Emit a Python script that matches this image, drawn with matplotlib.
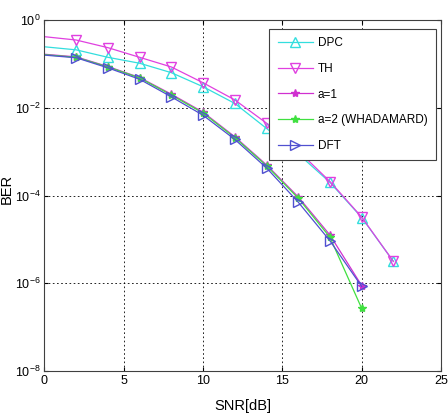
import matplotlib.pyplot as plt
import numpy as np

plt.rcParams['font.family'] = ['Liberation Sans', 'DejaVu Sans']

# log10(BER)
snr_long = [0, 2, 4, 6, 8, 10, 12, 14, 16, 18, 20, 22]
snr = [0, 2, 4, 6, 8, 10, 12, 14, 16, 18, 20]
dpc = [-0.61, -0.68, -0.85, -0.985, -1.2, -1.52, -1.9, -2.47, -3.05, -3.7, -4.5, -5.5]
th = [-0.38, -0.456, -0.63, -0.85, -1.07, -1.43, -1.82, -2.35, -2.98, -3.68, -4.49, -5.5]
a1 = [-0.78, -0.84, -1.06, -1.31, -1.69, -2.1, -2.66, -3.3, -4.03, -4.9, -6.05]
a2 = [-0.79, -0.85, -1.07, -1.32, -1.71, -2.12, -2.68, -3.32, -4.06, -4.95, -6.57]
dft = [-0.80, -0.86, -1.09, -1.35, -1.75, -2.17, -2.72, -3.37, -4.15, -5.03, -6.07]

fig = plt.figure(figsize=(4.48, 4.17), dpi=100)
ax = fig.add_axes([0.0993, 0.110, 0.885, 0.842])

me = slice(1, None)
ax.semilogy(snr_long, 10 ** np.array(dpc), color='#33dede', marker='^', mfc='none',
            ms=7, lw=0.9, markevery=me, label='DPC')
ax.semilogy(snr_long, 10 ** np.array(th), color='#e040e0', marker='v', mfc='none',
            ms=7, lw=0.9, markevery=me, label='TH')
ax.semilogy(snr, 10 ** np.array(a1), color='#d030d0', marker='*', ms=6,
            lw=0.9, markevery=me, label='a=1')
ax.semilogy(snr, 10 ** np.array(a2), color='#40e040', marker='*', ms=6,
            lw=0.9, markevery=me, label='a=2 (WHADAMARD)')
ax.semilogy(snr, 10 ** np.array(dft), color='#5050d0', marker='>', mfc='none',
            ms=7, lw=0.9, markevery=me, label='DFT')

ax.set_xlim(0, 25)
ax.set_ylim(1e-8, 1)
ax.set_xticks([0, 5, 10, 15, 20, 25])
ax.set_yticks([1e-8, 1e-6, 1e-4, 1e-2, 1])
ax.minorticks_off()
ax.grid(True, color='black', ls=(0, (2, 3)), lw=0.6)
ax.tick_params(direction='in', top=True, right=True, labelsize=9, length=3, pad=3)
for s in ax.spines.values():
    s.set_color('#404040')
    s.set_linewidth(0.8)

ax.set_xlabel('SNR[dB]', fontsize=10.5)
ax.set_ylabel('BER', fontsize=10.5)
ax.xaxis.set_label_coords(0.5, -0.08)
ax.yaxis.set_label_coords(-0.078, 0.52)

leg = ax.legend(loc='upper right', bbox_to_anchor=(0.987, 0.974), borderaxespad=0,
                fontsize=8.5, fancybox=False, edgecolor='#404040', framealpha=1,
                handlelength=3.0, handletextpad=0.4, labelspacing=1.15, borderpad=0.7)
leg.get_frame().set_linewidth(0.8)

fig.savefig('out.png', dpi=100)
